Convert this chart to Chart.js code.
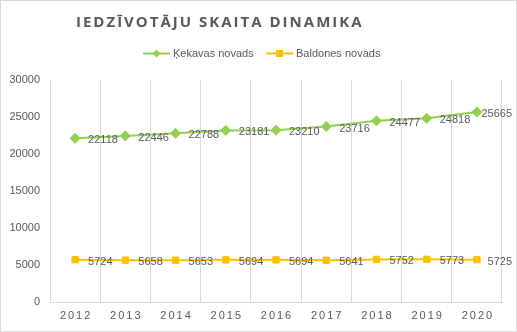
<!DOCTYPE html>
<html>
<head>
<meta charset="utf-8">
<script src="https://cdn.jsdelivr.net/npm/chart.js@4/dist/chart.umd.min.js"></script>
<style>
  html, body { margin: 0; padding: 0; background: #fff; }
  #wrap { width: 517px; height: 332px; position: relative; }
</style>
</head>
<body>
<div id="wrap"><canvas id="c" width="517" height="332"></canvas></div>
<script>
const years = ['2012', '2013', '2014', '2015', '2016', '2017', '2018', '2019', '2020'];
const kekava = [22118, 22446, 22788, 23181, 23210, 23716, 24477, 24818, 25665];
const baldone = [5724, 5658, 5653, 5694, 5694, 5641, 5752, 5773, 5725];
const seriesNames = ['Ķekavas novads', 'Baldones novads'];
const chartTitle = 'IEDZĪVOTĀJU SKAITA DINAMIKA';

const GREEN = '#92D050';
const GOLD = '#FFC000';
const TEXT = '#595959';
const GRID = '#D9D9D9';
const FONT = "'Liberation Sans', Arial, sans-serif";

// Frame, title, legend, spaced year labels and value labels
const decor = {
  id: 'decor',
  beforeDraw(chart) {
    const ctx = chart.ctx;
    ctx.save();
    ctx.fillStyle = '#fff';
    ctx.fillRect(0, 0, chart.width, chart.height);
    ctx.strokeStyle = GRID;
    ctx.lineWidth = 1;
    ctx.strokeRect(0.5, 0.5, chart.width - 1, chart.height - 1);
    ctx.restore();
  },
  afterDraw(chart) {
    const ctx = chart.ctx;
    ctx.save();

    // title
    ctx.fillStyle = TEXT;
    ctx.font = "bold 15px 'Open Sans', sans-serif";
    ctx.letterSpacing = '2px';
    ctx.textAlign = 'left';
    ctx.textBaseline = 'middle';
    ctx.fillText(chartTitle, 76, 23);

    // legend
    ctx.letterSpacing = '0px';
    ctx.font = '11px ' + FONT;
    ctx.textAlign = 'left';
    const items = [
      { x: 143, color: GREEN, marker: 'diamond', label: seriesNames[0] },
      { x: 266, color: GOLD, marker: 'square', label: seriesNames[1] }
    ];
    const ly = 53.5;
    items.forEach(it => {
      ctx.strokeStyle = it.color;
      ctx.lineWidth = 2;
      ctx.beginPath();
      ctx.moveTo(it.x, ly);
      ctx.lineTo(it.x + 27, ly);
      ctx.stroke();
      ctx.fillStyle = it.color;
      const cx = it.x + 13.5;
      if (it.marker === 'diamond') {
        ctx.beginPath();
        ctx.moveTo(cx, ly - 4);
        ctx.lineTo(cx + 4, ly);
        ctx.lineTo(cx, ly + 4);
        ctx.lineTo(cx - 4, ly);
        ctx.closePath();
        ctx.fill();
      } else {
        ctx.fillRect(cx - 3.5, ly - 3.5, 7, 7);
      }
      ctx.fillStyle = TEXT;
      ctx.fillText(it.label, it.x + 30, ly);
    });

    // year labels under the categories
    const xs = chart.scales.x;
    ctx.font = '11px ' + FONT;
    ctx.letterSpacing = '2px';
    ctx.textAlign = 'center';
    years.forEach((y, i) => {
      ctx.fillText(y, xs.getPixelForValue(i) + 1, 316);
    });

    // value labels to the right of each point, kept inside the frame
    ctx.letterSpacing = '0px';
    ctx.textAlign = 'left';
    ctx.font = '11px ' + FONT;
    chart.data.datasets.forEach((ds, di) => {
      const meta = chart.getDatasetMeta(di);
      meta.data.forEach((pt, i) => {
        const txt = String(ds.data[i]);
        const w = ctx.measureText(txt).width;
        const x = Math.min(pt.x + 13, chart.width - 5 - w);
        ctx.fillText(txt, x, pt.y + 2);
      });
    });
    ctx.restore();
  }
};

new Chart(document.getElementById('c'), {
  type: 'line',
  data: {
    labels: years,
    datasets: [
      {
        label: seriesNames[0],
        data: kekava,
        borderColor: GREEN,
        backgroundColor: GREEN,
        borderWidth: 2,
        pointStyle: 'rectRot',
        pointRadius: 5,
        pointBorderWidth: 1,
        pointBorderColor: GREEN,
        pointBackgroundColor: GREEN,
        tension: 0,
        clip: false
      },
      {
        label: seriesNames[1],
        data: baldone,
        borderColor: GOLD,
        backgroundColor: GOLD,
        borderWidth: 2,
        pointStyle: 'rect',
        pointRadius: 4.5,
        pointBorderWidth: 1,
        pointBorderColor: GOLD,
        pointBackgroundColor: GOLD,
        tension: 0,
        clip: false
      }
    ]
  },
  options: {
    responsive: false,
    animation: false,
    events: [],
    layout: { padding: { top: 80, right: 15, left: 0, bottom: 0 } },
    plugins: {
      legend: { display: false },
      title: { display: false },
      tooltip: { enabled: false }
    },
    scales: {
      x: {
        type: 'category',
        offset: true,
        grid: { display: true, color: GRID, lineWidth: 1, offset: true, drawTicks: false },
        border: { display: true, color: GRID },
        ticks: { display: false },
        afterFit(s) { s.height = 30; }
      },
      y: {
        min: 0,
        max: 30000,
        ticks: {
          stepSize: 5000,
          color: TEXT,
          font: { family: FONT, size: 11 },
          padding: 10,
          callback: v => String(v)
        },
        grid: { display: false, drawTicks: false },
        border: { display: false },
        afterFit(s) { s.width = 50; }
      }
    }
  },
  plugins: [decor]
});
</script>
</body>
</html>
